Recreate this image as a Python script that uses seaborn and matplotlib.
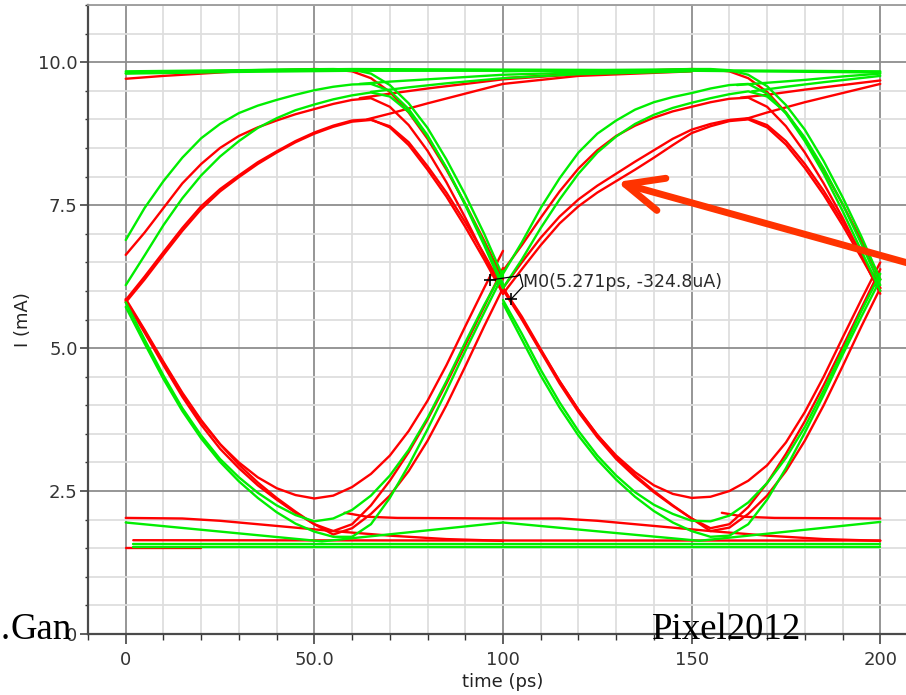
import numpy as np
import pandas as pd
import matplotlib
matplotlib.use("Agg")
import matplotlib.pyplot as plt
from matplotlib.patches import FancyArrowPatch, ArrowStyle
import seaborn as sns

# ---------------- data (time in ps, current in mA) ----------------
T_UI1 = [0, 5, 10, 15, 20, 25, 30, 35, 40, 45, 50, 55, 60, 65, 70, 75, 80, 85, 90, 95, 100]
T_UI2 = [100, 105, 110, 115, 120, 125, 130, 135, 140, 145, 150, 155, 160, 165, 170, 175, 180, 185, 190, 195, 200]

# upper eye boundaries (rise then fall), first unit interval
g_top1_ui1 = [6.89, 7.45, 7.92, 8.33, 8.67, 8.92, 9.11, 9.24, 9.34, 9.43, 9.51, 9.57, 9.61, 9.62, 9.50, 9.18, 8.72, 8.15, 7.50, 6.80, 6.05]
g_top2_ui1 = [6.10, 6.62, 7.15, 7.62, 8.02, 8.35, 8.62, 8.85, 9.02, 9.16, 9.26, 9.35, 9.42, 9.47, 9.40, 9.13, 8.70, 8.15, 7.52, 6.84, 6.12]
r_top1_ui1 = [6.63, 7.02, 7.45, 7.88, 8.22, 8.50, 8.71, 8.86, 8.98, 9.09, 9.18, 9.27, 9.34, 9.37, 9.22, 8.90, 8.45, 7.90, 7.28, 6.62, 5.95]
r_top2_ui1 = [5.84, 6.25, 6.68, 7.10, 7.48, 7.78, 8.02, 8.25, 8.44, 8.62, 8.77, 8.89, 8.98, 9.00, 8.86, 8.55, 8.12, 7.65, 7.12, 6.55, 5.95]
r_top3_ui1 = [5.80, 6.20, 6.63, 7.05, 7.43, 7.74, 7.99, 8.22, 8.42, 8.60, 8.75, 8.87, 8.96, 8.99, 8.88, 8.60, 8.18, 7.72, 7.20, 6.64, 6.05]
# second unit interval
g_top1_ui2 = [6.30, 6.85, 7.45, 7.97, 8.42, 8.75, 8.98, 9.17, 9.30, 9.39, 9.46, 9.54, 9.60, 9.62, 9.45, 9.10, 8.62, 8.05, 7.40, 6.70, 6.00]
g_top2_ui2 = [6.05, 6.55, 7.10, 7.60, 8.05, 8.42, 8.70, 8.92, 9.08, 9.20, 9.29, 9.37, 9.44, 9.49, 9.40, 9.12, 8.68, 8.14, 7.52, 6.82, 6.10]
r_top1_ui2 = [6.35, 6.80, 7.28, 7.74, 8.14, 8.46, 8.71, 8.89, 9.03, 9.14, 9.22, 9.30, 9.36, 9.38, 9.22, 8.88, 8.42, 7.88, 7.28, 6.62, 5.95]
r_top2_ui2 = [5.95, 6.38, 6.80, 7.18, 7.48, 7.72, 7.92, 8.12, 8.33, 8.55, 8.76, 8.88, 8.97, 9.00, 8.86, 8.56, 8.15, 7.68, 7.15, 6.58, 6.00]
r_top3_ui2 = [6.05, 6.50, 6.93, 7.30, 7.60, 7.84, 8.05, 8.26, 8.46, 8.66, 8.82, 8.92, 8.99, 9.02, 8.90, 8.62, 8.22, 7.75, 7.22, 6.65, 6.05]

# lower eye boundaries (fall then rise)
g_bot1_ui1 = [5.80, 5.15, 4.52, 3.95, 3.47, 3.06, 2.74, 2.47, 2.25, 2.08, 1.97, 2.02, 2.17, 2.42, 2.77, 3.22, 3.78, 4.42, 5.10, 5.75, 6.35]
g_bot2_ui1 = [5.72, 5.08, 4.46, 3.90, 3.42, 3.01, 2.67, 2.38, 2.13, 1.93, 1.79, 1.70, 1.70, 1.92, 2.38, 2.95, 3.58, 4.25, 4.95, 5.62, 6.28]
r_bot1_ui1 = [5.84, 5.30, 4.74, 4.20, 3.72, 3.32, 3.00, 2.74, 2.55, 2.43, 2.37, 2.42, 2.57, 2.80, 3.12, 3.55, 4.08, 4.70, 5.38, 6.05, 6.70]
r_bot2_ui1 = [5.82, 5.27, 4.70, 4.15, 3.66, 3.24, 2.90, 2.60, 2.35, 2.12, 1.92, 1.80, 1.92, 2.25, 2.68, 3.18, 3.75, 4.38, 5.05, 5.72, 6.40]
r_bot3_ui1 = [5.86, 5.32, 4.76, 4.22, 3.74, 3.32, 2.96, 2.65, 2.38, 2.14, 1.92, 1.74, 1.85, 2.10, 2.42, 2.85, 3.38, 4.00, 4.68, 5.38, 6.05]
g_bot1_ui2 = [5.84, 5.25, 4.62, 4.05, 3.55, 3.12, 2.77, 2.48, 2.26, 2.10, 1.98, 1.97, 2.07, 2.30, 2.64, 3.08, 3.62, 4.26, 4.95, 5.65, 6.30]
g_bot2_ui2 = [5.78, 5.15, 4.52, 3.96, 3.47, 3.05, 2.70, 2.40, 2.15, 1.95, 1.80, 1.70, 1.72, 1.92, 2.35, 2.90, 3.52, 4.18, 4.88, 5.55, 6.20]
r_bot1_ui2 = [6.05, 5.55, 4.98, 4.42, 3.92, 3.48, 3.12, 2.83, 2.60, 2.45, 2.38, 2.40, 2.50, 2.68, 2.95, 3.35, 3.88, 4.50, 5.18, 5.85, 6.50]
r_bot2_ui2 = [6.02, 5.50, 4.94, 4.38, 3.88, 3.44, 3.06, 2.75, 2.48, 2.24, 2.02, 1.85, 1.92, 2.22, 2.64, 3.15, 3.72, 4.35, 5.02, 5.70, 6.38]
r_bot3_ui2 = [6.05, 5.52, 4.96, 4.42, 3.92, 3.48, 3.10, 2.78, 2.50, 2.25, 2.02, 1.80, 1.86, 2.10, 2.42, 2.85, 3.38, 4.00, 4.68, 5.38, 6.05]

# high level held, then falling
t_pf_g1 = [0, 20, 40, 55, 60, 65, 70, 75, 80, 85, 90, 95, 100]
g_pf1 = [9.81, 9.84, 9.87, 9.88, 9.87, 9.80, 9.60, 9.28, 8.85, 8.30, 7.68, 7.00, 6.25]
t_pf_r1 = [0, 10, 20, 30, 40, 50, 55, 60, 65, 70, 75, 80, 85, 90, 95, 100]
r_pf1 = [9.71, 9.76, 9.80, 9.84, 9.86, 9.88, 9.87, 9.84, 9.72, 9.48, 9.12, 8.66, 8.12, 7.52, 6.88, 6.20]
t_pf_g2 = [100, 140, 150, 155, 160, 165, 170, 175, 180, 185, 190, 195, 200]
g_pf2 = [9.84, 9.87, 9.88, 9.88, 9.86, 9.78, 9.58, 9.25, 8.82, 8.27, 7.64, 6.95, 6.20]
t_pf_r2 = [100, 110, 120, 130, 140, 150, 155, 160, 165, 170, 175, 180, 185, 190, 195, 200]
r_pf2 = [9.72, 9.76, 9.80, 9.84, 9.86, 9.88, 9.87, 9.84, 9.72, 9.48, 9.12, 8.66, 8.12, 7.52, 6.88, 6.20]

# high plateau
t_plat = [0, 30, 60, 100, 150, 200]
g_plat1 = [9.84, 9.86, 9.88, 9.87, 9.86, 9.84]
g_plat2 = [9.80, 9.83, 9.85, 9.85, 9.85, 9.82]

# rise and stay high (slow settling)
t_rp_a = [62, 70, 80, 90, 100, 120, 150]
g_rp1 = [9.62, 9.66, 9.70, 9.74, 9.78, 9.82, 9.85]
t_rp_b = [65, 75, 85, 100, 120, 150]
g_rp2 = [9.48, 9.56, 9.63, 9.72, 9.79, 9.84]
t_rp_c = [62, 70, 80, 90, 100, 120, 150]
r_rp1 = [9.37, 9.45, 9.54, 9.62, 9.70, 9.79, 9.85]
t_rp_d = [64, 70, 80, 90, 100, 120, 150]
r_rp2 = [9.00, 9.10, 9.28, 9.45, 9.62, 9.76, 9.84]
t_rp_e = [162, 170, 180, 190, 200]
g_rp3 = [9.60, 9.64, 9.69, 9.75, 9.80]
t_rp_f = [166, 175, 185, 200]
g_rp4 = [9.49, 9.57, 9.65, 9.76]
t_rp_g = [163, 170, 180, 190, 200]
r_rp3 = [9.38, 9.43, 9.52, 9.60, 9.68]
t_rp_h = [164, 170, 180, 190, 200]
r_rp4 = [9.00, 9.12, 9.30, 9.46, 9.62]

# low level settling lines
t_ls1 = [0, 15, 25, 35, 45, 55, 70, 85, 100]
r_ls1 = [2.03, 2.02, 1.98, 1.92, 1.86, 1.80, 1.72, 1.66, 1.63]
t_ls2 = [100, 115, 125, 135, 145, 155, 170, 185, 200]
r_ls2 = [2.02, 2.02, 1.98, 1.92, 1.86, 1.80, 1.72, 1.66, 1.63]
t_lf_a = [58, 64, 72, 100]
r_lf_a = [2.12, 2.05, 2.03, 2.02]
t_lf_b = [158, 164, 172, 200]
r_lf_b = [2.12, 2.05, 2.03, 2.02]
t_gv = [0, 52, 100, 152, 200]
g_v = [1.95, 1.62, 1.95, 1.63, 1.96]
t_low = [2, 100, 200]
r_low1 = [1.64, 1.635, 1.635]
g_low1 = [1.57, 1.57, 1.57]
g_low2 = [1.53, 1.53, 1.53]
t_low_r = [0, 20]
r_low2 = [1.50, 1.50]

# marker readout
marker_t = [96.5, 102.2]
marker_i = [6.19, 5.86]
conn_t = [96.5, 103.9, 104.5, 105.3, 102.2]
conn_i = [6.19, 6.26, 6.29, 6.08, 5.86]
marker_label = "M0(5.271ps, -324.8uA)"

red_traces = [
    (T_UI1, r_top1_ui1), (T_UI1, r_top2_ui1), (T_UI1, r_top3_ui1),
    (T_UI2, r_top1_ui2), (T_UI2, r_top2_ui2), (T_UI2, r_top3_ui2),
    (T_UI1, r_bot1_ui1), (T_UI1, r_bot2_ui1), (T_UI1, r_bot3_ui1),
    (T_UI2, r_bot1_ui2), (T_UI2, r_bot2_ui2), (T_UI2, r_bot3_ui2),
    (t_pf_r1, r_pf1), (t_pf_r2, r_pf2),
    (t_rp_c, r_rp1), (t_rp_d, r_rp2), (t_rp_g, r_rp3), (t_rp_h, r_rp4),
    (t_ls1, r_ls1), (t_ls2, r_ls2), (t_lf_a, r_lf_a), (t_lf_b, r_lf_b),
    (t_low, r_low1), (t_low_r, r_low2),
]
green_traces = [
    (T_UI1, g_top1_ui1), (T_UI1, g_top2_ui1),
    (T_UI2, g_top1_ui2), (T_UI2, g_top2_ui2),
    (T_UI1, g_bot1_ui1), (T_UI1, g_bot2_ui1),
    (T_UI2, g_bot1_ui2), (T_UI2, g_bot2_ui2),
    (t_pf_g1, g_pf1), (t_pf_g2, g_pf2),
    (t_plat, g_plat1), (t_plat, g_plat2),
    (t_rp_a, g_rp1), (t_rp_b, g_rp2), (t_rp_e, g_rp3), (t_rp_f, g_rp4),
    (t_gv, g_v), (t_low, g_low1), (t_low, g_low2),
]


def to_frame(traces, tag):
    rows = []
    for k, (tt, yy) in enumerate(traces):
        rows.append(pd.DataFrame({"t": tt, "I": yy, "trace": f"{tag}{k}"}))
    return pd.concat(rows, ignore_index=True)


df_red = to_frame(red_traces, "r")
df_green = to_frame(green_traces, "g")

# ---------------- figure ----------------
sns.set_style("white")
plt.rcParams["font.family"] = ["DejaVu Sans"]

W, H = 906, 695
fig = plt.figure(figsize=(W / 100, H / 100), dpi=100)
fig.patch.set_facecolor("white")
ax = fig.add_axes([88 / W, 61 / H, 830 / W, 629 / H])

ax.set_xlim(-10, 210)
ax.set_ylim(0, 11)

ax.set_xticks([0, 50, 100, 150, 200])
ax.set_xticklabels(["0", "50.0", "100", "150", "200"])
ax.set_xticks(np.arange(-10, 211, 10), minor=True)
ax.set_yticks([0, 2.5, 5.0, 7.5, 10.0])
ax.set_yticklabels(["0", "2.5", "5.0", "7.5", "10.0"])
ax.set_yticks(np.arange(0, 11.01, 0.5), minor=True)

ax.set_axisbelow(True)
ax.grid(which="minor", color="#dedede", lw=1.3)
ax.grid(which="major", color="#8e8e8e", lw=1.3)

for side in ["left", "bottom"]:
    ax.spines[side].set_color("#4a4a4a")
    ax.spines[side].set_linewidth(1.6)
ax.spines["top"].set_color("#9a9a9a")
ax.spines["top"].set_linewidth(1.3)
ax.spines["right"].set_visible(False)

ax.tick_params(axis="y", which="major", direction="out", length=6, width=1.1,
               pad=1.5, labelsize=13, colors="#333333", left=True)
ax.tick_params(axis="y", which="minor", direction="out", length=2.5, width=1.0,
               colors="#333333", left=True)
ax.tick_params(axis="x", which="major", direction="out", length=7, width=1.1,
               pad=5, labelsize=13, colors="#333333", bottom=True)
ax.tick_params(axis="x", which="minor", direction="out", length=4, width=1.0,
               colors="#333333", bottom=True)

sns.lineplot(data=df_red, x="t", y="I", units="trace", estimator=None, sort=False,
             color="#ff0000", lw=1.7, ax=ax, legend=False)
sns.lineplot(data=df_green, x="t", y="I", units="trace", estimator=None, sort=False,
             color="#00ee00", lw=1.7, ax=ax, legend=False)

ax.set_xlabel("time (ps)", fontsize=13, color="#222222", labelpad=3)
ax.set_ylabel("I (mA)", fontsize=13, color="#222222", labelpad=4)

# marker readout
ax.plot(conn_t, conn_i, color="black", lw=0.9, zorder=6)
ax.plot(marker_t, marker_i, ls="none", marker="+", ms=9, mew=1.2, color="black", zorder=7)
ax.text(105.4, 6.16, marker_label, fontsize=12.5, color="#2a2a2a", va="center", ha="left", zorder=7)

# overlay annotations
serif = ["Liberation Serif", "DejaVu Serif"]
fig.text(10.5 / W, 56 / H, "Gan", family=serif, fontsize=26.5, color="black", ha="left", va="baseline", zorder=10)
fig.text(0.5 / W, 56 / H, ".", family=serif, fontsize=26.5, color="black", ha="left", va="baseline", zorder=10)
fig.text(652 / W, 56 / H, "Pixel2012", family=serif, fontsize=26.5, color="black", ha="left", va="baseline", zorder=10)

arrow = FancyArrowPatch(posA=(915 / W, (H - 265) / H), posB=(617 / W, (H - 182) / H),
                        transform=fig.transFigure,
                        arrowstyle=ArrowStyle("->", head_length=2.7, head_width=1.2),
                        mutation_scale=10, lw=5, color="#ff3300",
                        shrinkA=0, shrinkB=0, capstyle="round", joinstyle="round", zorder=20)
fig.add_artist(arrow)

fig.savefig("out.png", dpi=100, facecolor="white")
